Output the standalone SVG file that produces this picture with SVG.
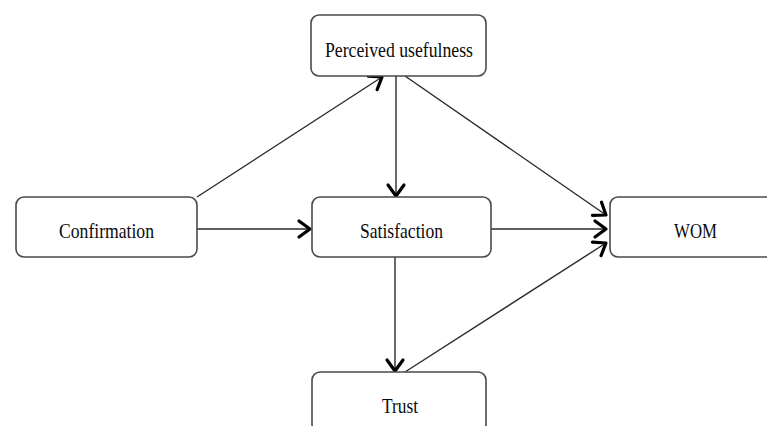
<svg xmlns="http://www.w3.org/2000/svg" width="767" height="426" viewBox="0 0 767 426">
<style>
.box{fill:#fff;stroke:#4a4a4a;stroke-width:1.6}
.lbl{font-family:'Liberation Serif','DejaVu Serif',serif;font-size:21px;fill:#0a0a0a;text-anchor:middle}
.edge{stroke:#2a2a2a;stroke-width:1.4;fill:none;marker-end:url(#arr)}
</style>
<defs>
<marker id="arr" markerUnits="userSpaceOnUse" viewBox="-14 -10 17 20" markerWidth="17" markerHeight="20" refX="0" refY="0" orient="auto" overflow="visible">
<path d="M-11,-8 L0,0 L-11,8" fill="none" stroke="#000" stroke-width="3.2" stroke-linecap="round" stroke-linejoin="round"/>
</marker>
</defs>
<rect width="767" height="426" fill="#fff"/>
<g id="connectors">
<line class="edge" x1="197" y1="197" x2="382" y2="77"/>
<line class="edge" x1="197" y1="229" x2="310" y2="229"/>
<line class="edge" x1="396" y1="76" x2="396" y2="196"/>
<line class="edge" x1="405" y1="76" x2="606" y2="215"/>
<line class="edge" x1="491" y1="229" x2="606" y2="229"/>
<line class="edge" x1="395" y1="257" x2="395" y2="371"/>
<line class="edge" x1="405" y1="372" x2="606" y2="243"/>
</g>
<g id="perceived-usefulness">
<rect class="box" x="311" y="15" width="175" height="61" rx="8"/>
<text class="lbl" x="399" y="57" textLength="148" lengthAdjust="spacingAndGlyphs">Perceived usefulness</text>
</g>
<g id="confirmation">
<rect class="box" x="16" y="197" width="181" height="60" rx="8"/>
<text class="lbl" x="106.5" y="238" textLength="95" lengthAdjust="spacingAndGlyphs">Confirmation</text>
</g>
<g id="satisfaction">
<rect class="box" x="312" y="197" width="179" height="60" rx="8"/>
<text class="lbl" x="401.5" y="238" textLength="83" lengthAdjust="spacingAndGlyphs">Satisfaction</text>
</g>
<g id="wom">
<rect class="box" x="610" y="197" width="172" height="60" rx="8"/>
<text class="lbl" x="695.5" y="238" textLength="43" lengthAdjust="spacingAndGlyphs">WOM</text>
</g>
<g id="trust">
<rect class="box" x="312" y="372" width="174" height="60" rx="8"/>
<text class="lbl" x="400" y="413" textLength="36" lengthAdjust="spacingAndGlyphs">Trust</text>
</g>
</svg>
